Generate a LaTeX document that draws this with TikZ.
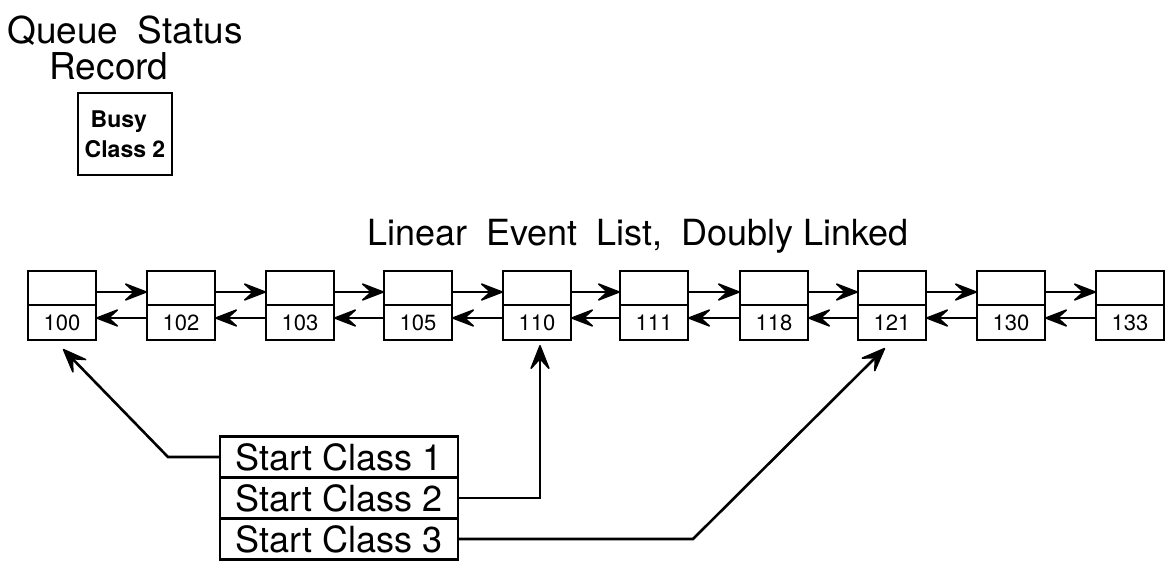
\documentclass[tikz,border=0pt]{standalone}
\usepackage{fontspec}
\setmainfont{TeX Gyre Heros}
\usetikzlibrary{arrows.meta}
\begin{document}
\begin{tikzpicture}[x=1pt,y=-1pt,line width=2.6pt,
  cell/.style={draw,minimum width=68pt,minimum height=34pt,inner sep=0pt,outer sep=0pt},
  numcell/.style={draw,minimum width=68pt,minimum height=35pt,inner sep=0pt,outer sep=0pt,font=\fontsize{22}{22}\selectfont},
  link/.style={-{Stealth[length=26pt,width=20pt,inset=11pt,line width=1.5pt,round]}},
  ptr/.style={-{Stealth[length=28pt,width=22pt,inset=12pt,line width=1.5pt,round]}},
  title/.style={font=\fontsize{37}{37}\selectfont,anchor=base,inner sep=0pt},
  startbox/.style={draw,minimum width=238pt,minimum height=41pt,inner sep=0pt,outer sep=0pt,font=\fontsize{36}{36}\selectfont}]
\useasboundingbox (0,0) rectangle (1167,563);

% Queue status record
\node[title] (q1) at (125,43) {Queue\hspace{0.25em} Status};
\node[title] (q2) at (109,79) {Record};
\node[draw,minimum width=94pt,minimum height=82pt,align=left,inner sep=0pt,
      font=\bfseries\fontsize{23}{30}\selectfont] (busy) at (125,134) {\hspace*{6pt}Busy\\Class 2};

% list title
\node[title,font=\fontsize{36}{36}\selectfont] (lt) at (638,245) {Linear\hspace{0.25em} Event\hspace{0.25em} List,\hspace{0.25em} Doubly Linked};

% list elements
\foreach \i/\x/\n in {1/62/100,2/181/102,3/300/103,4/418/105,5/537/110,6/654/111,7/774/118,8/892/121,9/1011/130,10/1130/133}{
  \node[cell] (t\i) at (\x,288) {};
  \node[numcell] (b\i) at (\x,322.5) {\n};
}
\foreach \i [evaluate=\i as \j using int(\i+1)] in {1,...,9}{
  \draw[link] ([yshift=-4pt]t\i.east) -- ([yshift=-4pt]t\j.west);
  \draw[link] ([yshift=4.5pt]b\j.west) -- ([yshift=4.5pt]b\i.east);
}

% start class table
\node[startbox] (s1) at (339,457) {Start Class 1};
\node[startbox] (s2) at (339,498) {Start Class 2};
\node[startbox] (s3) at (339,539) {Start Class 3};

\coordinate (c1) at (168,457);
\coordinate (c3) at (693,539);
\draw[ptr] (s1.west) -- (c1) -- ([shift={(1pt,-9pt)}]b1.south);
\draw[ptr] (s2.east) -| ([shift={(3pt,-5pt)}]b5.south);
\draw[ptr] (s3.east) -- (c3) -- ([shift={(-7pt,-8pt)}]b8.south);
\end{tikzpicture}
\end{document}
